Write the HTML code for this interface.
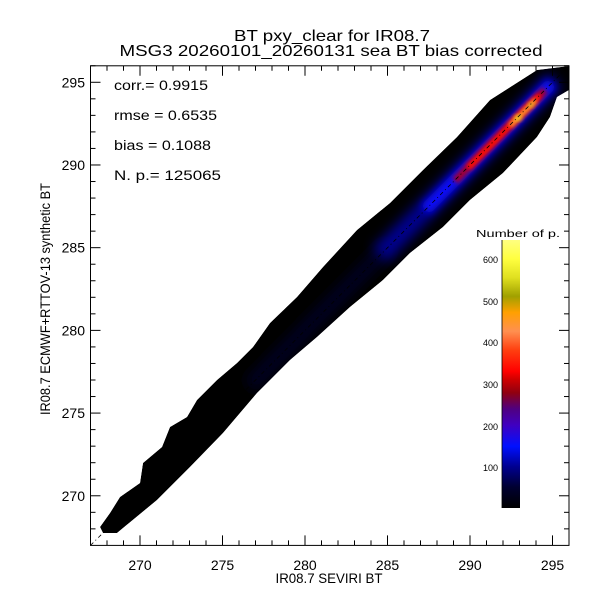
<!DOCTYPE html>
<html><head><meta charset="utf-8"><style>
html,body{margin:0;padding:0;background:#fff;}
svg{display:block;}
text{font-family:"Liberation Sans",sans-serif;fill:#000;}
</style></head><body>
<svg id="s" width="600" height="600" viewBox="0 0 600 600" xmlns="http://www.w3.org/2000/svg">
<defs>
<filter id="b6" x="-50%" y="-50%" width="200%" height="200%"><feGaussianBlur stdDeviation="6"/></filter>
<filter id="b4" x="-50%" y="-50%" width="200%" height="200%"><feGaussianBlur stdDeviation="4"/></filter>
<filter id="b2" x="-50%" y="-50%" width="200%" height="200%"><feGaussianBlur stdDeviation="2.2"/></filter>
<clipPath id="cp"><path id="shape" d="M100,527 L110,513 L120,497 L140,483 L143,463 L162,447 L170,427 L187,417 L197,400 L217,380 L237,363 L253,347 L270,323 L297,297 L323,267 L357,230 L390,203 L423,170 L457,137 L490,100 L537,70 L569,66 L569,90 L557,97 L550,117 L537,137 L503,173 L470,200 L443,227 L410,253 L383,280 L350,307 L317,337 L290,360 L257,393 L223,433 L190,467 L157,500 L117,533 L103,533 Z"/></clipPath>
<linearGradient id="cb" x1="0" y1="1" x2="0" y2="0">
<stop offset="0" stop-color="#000000"/>
<stop offset="0.077" stop-color="#000030"/>
<stop offset="0.154" stop-color="#000090"/>
<stop offset="0.23" stop-color="#0010ff"/>
<stop offset="0.31" stop-color="#4000c0"/>
<stop offset="0.37" stop-color="#500080"/>
<stop offset="0.43" stop-color="#900010"/>
<stop offset="0.48" stop-color="#d00000"/>
<stop offset="0.51" stop-color="#ff0000"/>
<stop offset="0.59" stop-color="#ff4010"/>
<stop offset="0.66" stop-color="#ff9050"/>
<stop offset="0.73" stop-color="#ffa000"/>
<stop offset="0.79" stop-color="#a0a000"/>
<stop offset="0.86" stop-color="#e0e020"/>
<stop offset="0.93" stop-color="#ffff40"/>
<stop offset="1" stop-color="#ffff80"/>
</linearGradient>
</defs>
<text x="332" y="41" font-size="16" text-anchor="middle" textLength="196" lengthAdjust="spacingAndGlyphs">BT pxy_clear for IR08.7</text>
<text x="331" y="56" font-size="16" text-anchor="middle" textLength="423" lengthAdjust="spacingAndGlyphs">MSG3 20260101_20260131 sea BT bias corrected</text>

<g clip-path="url(#cp)">
<use href="#shape" fill="#000"/>
<polyline points="250,386 320,315 390,245" fill="none" stroke="#000020" stroke-width="16" filter="url(#b6)"/>
<polyline points="380,255 430,205 490,145 555,80" fill="none" stroke="#000090" stroke-width="20" filter="url(#b6)"/>
<polyline points="425,210 460,175 500,135 552,83" fill="none" stroke="#1010ff" stroke-width="12" filter="url(#b4)"/>
<polyline points="455,181 480,155 510,125 545,90" fill="none" stroke="#a00030" stroke-width="8" filter="url(#b2)"/>
<polyline points="468,168 495,141 520,115 540,95" fill="none" stroke="#ff1000" stroke-width="6" filter="url(#b2)"/>
<polyline points="510,126 522,114 536,100" fill="none" stroke="#ff9a30" stroke-width="5" filter="url(#b2)"/>
<ellipse cx="518" cy="118" rx="3.5" ry="2.5" fill="#e8e020" filter="url(#b2)"/>
<ellipse cx="531" cy="105" rx="2.5" ry="2" fill="#c8c020" filter="url(#b2)"/>
</g>
<line x1="90.5" y1="545.4" x2="569" y2="65.8" stroke="#000" stroke-width="0.8" stroke-dasharray="4,3,1,3"/>

<rect x="502" y="240" width="18" height="268" fill="url(#cb)"/>
<line x1="502" y1="240" x2="502" y2="508" stroke="#000" stroke-width="0.8"/>
<text x="476" y="237" font-size="10" textLength="84" lengthAdjust="spacingAndGlyphs">Number of p.</text>
<g font-size="9" text-anchor="end">
<text x="498" y="263">600</text>
<text x="498" y="305">500</text>
<text x="498" y="346">400</text>
<text x="498" y="388">300</text>
<text x="498" y="430">200</text>
<text x="498" y="471">100</text>
</g>

<g font-size="13.5">
<text x="114" y="90" textLength="94" lengthAdjust="spacingAndGlyphs">corr.= 0.9915</text>
<text x="114" y="120" textLength="103" lengthAdjust="spacingAndGlyphs">rmse  =  0.6535</text>
<text x="114" y="150" textLength="97" lengthAdjust="spacingAndGlyphs">bias  =  0.1088</text>
<text x="114" y="180" textLength="107" lengthAdjust="spacingAndGlyphs">N. p.=   125065</text>
</g>

<rect x="90.5" y="65.8" width="478.5" height="479.6" fill="none" stroke="#000" stroke-width="1"/>
<g id="ticks" stroke="#000" stroke-width="1"></g>
<g id="labs" font-size="14"></g>
<text x="329" y="583" font-size="14" text-anchor="middle" textLength="107" lengthAdjust="spacingAndGlyphs">IR08.7 SEVIRI BT</text>
<text transform="translate(50,299) rotate(-90)" font-size="14" text-anchor="middle" textLength="232" lengthAdjust="spacingAndGlyphs">IR08.7 ECMWF+RTTOV-13 synthetic BT</text>
</svg>
<script>
var NS="http://www.w3.org/2000/svg",t=document.getElementById("ticks"),l=document.getElementById("labs");
function px(v){return 90.5+(v-267)*16.5;}
function py(v){return 545.4-(v-267)*16.54;}
function ln(a,b,c,d){var e=document.createElementNS(NS,"line");e.setAttribute("x1",a);e.setAttribute("y1",b);e.setAttribute("x2",c);e.setAttribute("y2",d);t.appendChild(e);}
function tx(x,y,s,a){var e=document.createElementNS(NS,"text");e.setAttribute("x",x);e.setAttribute("y",y);e.setAttribute("text-anchor",a);e.textContent=s;l.appendChild(e);}
for(var v=268;v<=296;v++){var maj=v%5==0,L=maj?10:5;
var x=px(v);ln(x,545.4,x,545.4-L);ln(x,65.8,x,65.8+L);
var y=py(v);ln(90.5,y,90.5+L,y);ln(569,y,569-L,y);
if(maj){tx(x,570,String(v),"middle");tx(85,y+5,String(v),"end");}}
</script>
</body></html>
